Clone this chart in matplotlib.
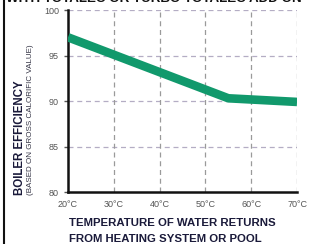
import matplotlib
matplotlib.use("Agg")
import matplotlib.pyplot as plt

# water return temperature (deg C) vs boiler efficiency (%)
temps = [20, 55, 70]
efficiency = [97.0, 90.3, 89.9]

xticks = [20, 30, 40, 50, 60, 70]
xtick_labels = ["20°C", "30°C", "40°C", "50°C", "60°C", "70°C"]
yticks = [80, 85, 90, 95, 100]

plt.rcParams['font.family'] = ['Liberation Sans', 'DejaVu Sans']

fig = plt.figure(figsize=(3.12, 2.44), dpi=100)
ax = fig.add_axes([0.218, 0.213, 0.734, 0.746])

# dashed grid
for yv in yticks[1:]:
    ax.axhline(yv, color='#b4adc4', lw=0.9, ls=(0, (4, 3)), zorder=1)
for xv in xticks[1:]:
    ax.axvline(xv, color='#9a9a9a', lw=0.9, ls=(0, (4, 3)), zorder=1)

ax.plot(temps, efficiency, color='#11996c', lw=6.2, solid_capstyle='butt',
        solid_joinstyle='round', zorder=3)

ax.set_xlim(20, 70)
ax.set_ylim(80, 100)
ax.set_xticks(xticks)
ax.set_xticklabels(xtick_labels)
ax.set_yticks(yticks)
ax.tick_params(axis='both', labelsize=6.5, colors='#555555', length=3, width=1)
ax.tick_params(axis='x', length=0, pad=6)
for s in ['top', 'right']:
    ax.spines[s].set_visible(False)
for s in ['left', 'bottom']:
    ax.spines[s].set_linewidth(1.8)
    ax.spines[s].set_color('#111111')

fig.text(0.064, 0.2, "BOILER EFFICIENCY", rotation=90, ha='center', va='bottom',
         fontsize=8.3, fontweight='bold', color='#1a1a3a')
fig.text(0.097, 0.2, "(BASED ON GROSS CALORIFIC VALUE)", rotation=90,
         ha='center', va='bottom', fontsize=5.8, color='#333344')

fig.text(0.22, 0.086, "TEMPERATURE OF WATER RETURNS", ha='left', va='center',
         fontsize=8.2, fontweight='bold', color='#1a1a3a')
fig.text(0.22, 0.022, "FROM HEATING SYSTEM OR POOL", ha='left', va='center',
         fontsize=8.2, fontweight='bold', color='#1a1a3a')

# title cut off by the crop at the top
fig.text(0.02, 1.006, "WITH TOTALEC OR TURBO TOTALEC ADD ON", ha='left',
         va='center', fontsize=9.6, fontweight='bold', color='#111111')

# left frame border
fig.add_artist(plt.Line2D([0.012, 0.012], [0, 1], color='#111111', lw=1.5))

fig.savefig("out.png", dpi=100)
